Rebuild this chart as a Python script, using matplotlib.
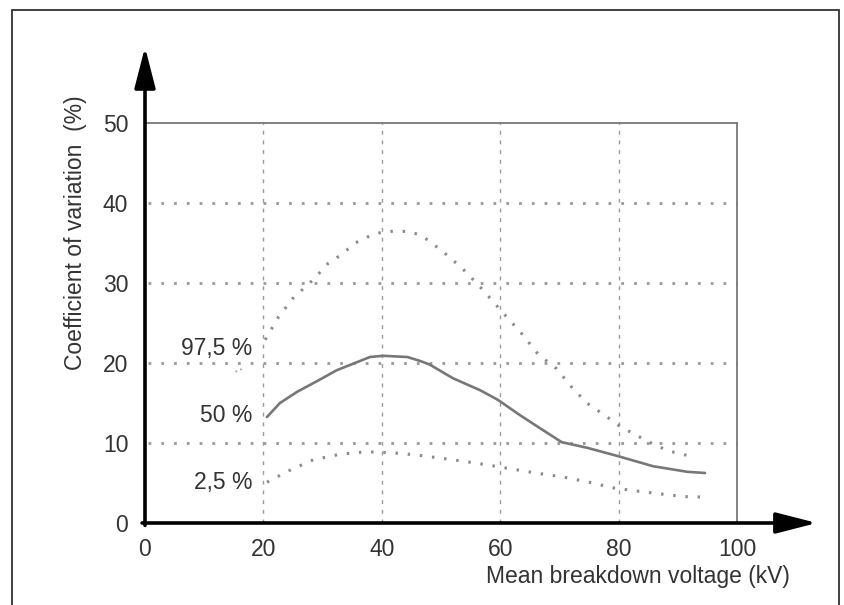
import matplotlib.pyplot as plt
from matplotlib.patches import Rectangle

plt.rcParams['font.family'] = ['Liberation Sans', 'DejaVu Sans']

# curves (x = mean breakdown voltage kV, y = CoV %)
x_50 = [20.6, 22.8, 25.7, 29.1, 32.4, 35.8, 38, 40.2, 44.3, 46.5, 48.1, 52, 56.6, 59.6,
        63.3, 66.2, 70.4, 74.7, 79.7, 85.8, 91.6, 94.6]
y_50 = [13.25, 15.0, 16.4, 17.75, 19.1, 20.1, 20.75, 20.9, 20.75, 20.25, 19.8, 18.1, 16.6, 15.4,
        13.5, 12.1, 10.1, 9.4, 8.4, 7.1, 6.4, 6.25]

x_975 = [20.3, 22.5, 25, 28.4, 31, 33.1, 35.5, 38, 40.2, 42.7, 44.8, 46.8, 50.2, 53.5, 56.5,
         60.8, 63.5, 66.4, 69.5, 72.5, 75, 77.4, 80, 82.9, 86, 88.5, 92.7]
y_975 = [22.9, 25.7, 28.1, 30.4, 32.5, 33.5, 35.0, 35.9, 36.4, 36.5, 36.4, 35.9, 34.0, 31.9, 29.6,
         26.0, 23.8, 21.1, 19.3, 16.6, 14.8, 13.6, 12.2, 11.0, 9.8, 9.0, 8.25]

x_25 = [20.6, 24.5, 28.4, 33, 37.2, 41.5, 45.9, 50, 53.5, 57.5, 62, 66, 70.6, 75, 79, 83, 87.5, 91, 93.75]
y_25 = [5.1, 6.6, 7.9, 8.6, 8.9, 8.8, 8.5, 8.1, 7.75, 7.3, 6.75, 6.25, 5.75, 5.1, 4.4, 4.0, 3.6, 3.3, 3.25]

xticks = [0, 20, 40, 60, 80, 100]
yticks = [0, 10, 20, 30, 40, 50]

fig = plt.figure(figsize=(8.45, 6.05), dpi=100)
ax = fig.add_axes([145 / 845, 82 / 605, 592 / 845, 400 / 605])
ax.set_xlim(0, 100)
ax.set_ylim(0, 50)

# outer frame of the figure
fig.patches.append(Rectangle((12 / 845, -0.02), 827 / 845, 1.02 - 10 / 605,
                             transform=fig.transFigure, fill=False,
                             edgecolor='#333333', lw=1.3))

for s in ['left', 'bottom']:
    ax.spines[s].set_visible(False)
for s in ['top', 'right']:
    ax.spines[s].set_color('#777777')
    ax.spines[s].set_linewidth(1.3)

# grid
for xv in xticks[1:-1]:
    ax.plot([xv, xv], [0, 50], color='#9a9a9a', lw=1.0, ls=(0, (2.8, 4.2)), zorder=1)
for yv in yticks[1:-1]:
    ax.plot([0.5, 100], [yv, yv], color='#999999', lw=2.0, ls=(0, (1, 3.6)), zorder=1)

# axes with arrows
ax.annotate('', xy=(113.5, 0), xytext=(-0.5, 0), annotation_clip=False,
            arrowprops=dict(arrowstyle='-|>,head_length=1.25,head_width=0.32',
                            mutation_scale=20, lw=2.6, color='black',
                            shrinkA=0, shrinkB=0))
ax.annotate('', xy=(0, 59.5), xytext=(0, -0.3), annotation_clip=False,
            arrowprops=dict(arrowstyle='-|>,head_length=1.25,head_width=0.32',
                            mutation_scale=20, lw=2.6, color='black',
                            shrinkA=0, shrinkB=0))

ax.plot(x_50, y_50, color='#777777', lw=1.9, zorder=3, solid_capstyle='round')
ax.plot(x_975, y_975, color='#8a8a8a', lw=2.2, ls=(0, (0.8, 3.2)), zorder=3)
ax.plot(x_25, y_25, color='#8a8a8a', lw=2.2, ls=(0, (0.8, 3.2)), zorder=3)

txt = dict(fontsize=16.5, color='#333333', ha='right', va='center')
ax.text(18.2, 21.8, '97,5 %', **txt)
ax.text(18.2, 13.4, '50 %', **txt)
ax.text(18.2, 5.0, '2,5 %', **txt)
ax.plot([15.3, 16.8], [18.9, 19.4], color='#999999', lw=1.2, ls=(0, (1, 2)))

ax.set_xticks(xticks)
ax.set_yticks(yticks)
ax.tick_params(length=0, labelsize=16.5, labelcolor='#333333')
ax.tick_params(axis='x', pad=11)
ax.tick_params(axis='y', pad=12)

ax.text(1.09, -0.135, 'Mean breakdown voltage (kV)', transform=ax.transAxes,
        fontsize=16.5, color='#333333', ha='right', va='center')
ax.text(-0.118, 0.725, 'Coefficient of variation  (%)', transform=ax.transAxes,
        fontsize=16.5, color='#333333', ha='center', va='center', rotation=90)

fig.savefig('out.png', dpi=100)
